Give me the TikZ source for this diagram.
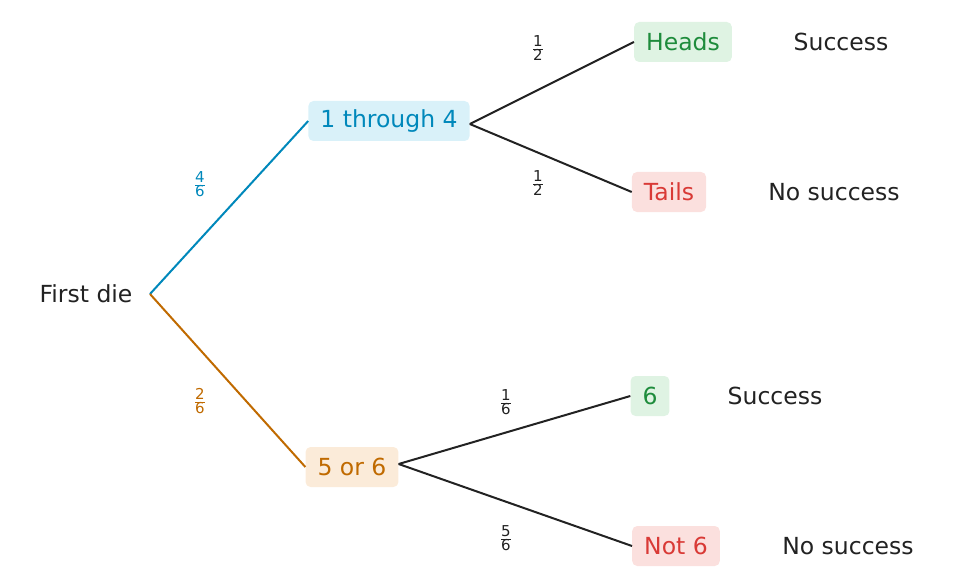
\documentclass[tikz,border=0pt]{standalone}
\usepackage{fontspec}
\setmainfont{DejaVu Sans}
\newcommand{\myfr}[2]{\setlength{\tabcolsep}{0pt}\renewcommand{\arraystretch}{0.8}\begin{tabular}{c}#1\\[-1pt]\hline\rule{0pt}{11pt}#2\end{tabular}}
\begin{document}
\definecolor{tblue}{HTML}{0088BB}\definecolor{bblue}{HTML}{D9F1F9}
\definecolor{torange}{HTML}{C06A00}\definecolor{borange}{HTML}{FBEBD9}
\definecolor{tgreen}{HTML}{1E8C3C}\definecolor{bgreen}{HTML}{DFF3E3}
\definecolor{tred}{HTML}{D93A36}\definecolor{bred}{HTML}{FBE0DE}
\definecolor{ink}{HTML}{222222}
\begin{tikzpicture}[x=1pt,y=-1pt,
  lbl/.style={font=\fontsize{23.5}{27}\selectfont, text=ink},
  box/.style={font=\fontsize{23.5}{27}\selectfont, rounded corners=5pt, minimum height=40pt, inner xsep=12pt, inner ysep=0pt},
  frac/.style={font=\fontsize{15}{17}\selectfont, inner sep=0pt},
  edge/.style={line width=2pt}]
\useasboundingbox (0,0) rectangle (955,588);
\node[lbl] (first) at (86,294) {First die};
\coordinate (root) at (150,294);
\node[box, fill=bblue, text=tblue] (a) at (389,121) {1 through 4};
\node[box, fill=borange, text=torange] (b) at (352,467) {5 or 6};
\node[box, fill=bgreen, text=tgreen] (h) at (683,42) {Heads};
\node[box, fill=bred, text=tred] (t) at (669,192) {Tails};
\node[box, fill=bgreen, text=tgreen] (s) at (650,396) {6};
\node[box, fill=bred, text=tred] (n) at (676,546) {Not 6};
\node[lbl] (r1) at (841,42) {Success};
\node[lbl] (r2) at (834,192) {No success};
\node[lbl] (r3) at (775,396) {Success};
\node[lbl] (r4) at (848,546) {No success};
\draw[edge, tblue] (root) -- (a.west);
\draw[edge, torange] (root) -- (b.west);
\draw[edge, ink] ([yshift=-3pt]a.east) -- (h.west);
\draw[edge, ink] ([yshift=-3pt]a.east) -- (t.west);
\draw[edge, ink] ([yshift=3pt]b.east) -- (s.west);
\draw[edge, ink] ([yshift=3pt]b.east) -- (n.west);
\node[frac, text=tblue] (f1) at (200,186) {\myfr{4}{6}};
\node[frac, text=torange] (f2) at (200,403) {\myfr{2}{6}};
\node[frac, text=ink] (f3) at (538,50) {\myfr{1}{2}};
\node[frac, text=ink] (f4) at (538,185) {\myfr{1}{2}};
\node[frac, text=ink] (f5) at (506,404) {\myfr{1}{6}};
\node[frac, text=ink] (f6) at (506,540) {\myfr{5}{6}};
\end{tikzpicture}
\end{document}
